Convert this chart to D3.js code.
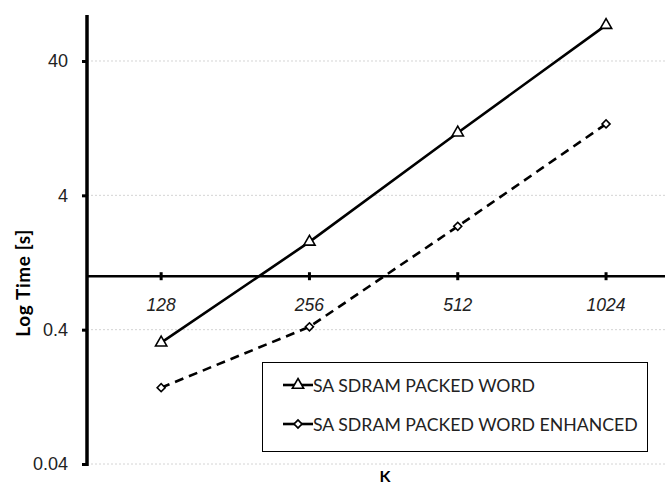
<!DOCTYPE html>
<html>
<head>
<meta charset="utf-8">
<script src="https://cdn.jsdelivr.net/npm/d3@7"></script>
<style>
  body { margin: 0; background: #fff; }
  svg { display: block; font-family: Lato, "Liberation Sans", sans-serif; }
</style>
</head>
<body>
<div id="chart"></div>
<script>
// values
var categories = ['128', '256', '512', '1024'];
var packedWord = [0.32, 1.8, 11.7, 74];
var packedWordEnhanced = [0.148, 0.42, 2.35, 13.6];
var yTicks = [0.04, 0.4, 4, 40];
var seriesNames = ['SA SDRAM PACKED WORD', 'SA SDRAM PACKED WORD ENHANCED'];
var crossAt = 1; // horizontal axis crosses the value axis here

var width = 665, height = 487;
var plotLeft = 87, plotTop = 15, plotBottom = 464;

var svg = d3.select('#chart').append('svg')
  .attr('width', width)
  .attr('height', height);

var x = d3.scaleBand()
  .domain(categories)
  .range([plotLeft, plotLeft + 4 * 148.3]);

var y = d3.scaleLog()
  .domain([0.04, 88])
  .range([plotBottom, plotTop]);

function cx(d) { return x(d) + x.bandwidth() / 2; }

// dotted gridlines
svg.append('g').selectAll('line')
  .data(yTicks)
  .enter()
  .append('line')
  .attr('x1', plotLeft)
  .attr('x2', width)
  .attr('y1', function(d) { return y(d); })
  .attr('y2', function(d) { return y(d); })
  .attr('stroke', '#d4d4d4')
  .attr('stroke-width', 1)
  .attr('stroke-dasharray', '2,2');

// value axis
var yAxis = svg.append('g')
  .attr('transform', 'translate(' + plotLeft + ',0)')
  .call(d3.axisLeft(y).tickValues(yTicks).tickSize(5).tickPadding(14)
    .tickFormat(function(d) { return String(d); }));
yAxis.select('.domain').attr('stroke', '#000').attr('stroke-width', 3.5)
  .attr('d', 'M0,' + plotTop + 'V' + (plotBottom + 2));
yAxis.selectAll('.tick line').attr('stroke', '#000').attr('stroke-width', 3);
yAxis.selectAll('.tick text').attr('font-size', 18).attr('fill', '#222');

// category axis, crossing at 1
var xAxis = svg.append('g')
  .attr('transform', 'translate(0,' + y(crossAt) + ')')
  .call(d3.axisBottom(x).tickSize(0).tickPadding(22));
xAxis.select('.domain').attr('stroke', '#000').attr('stroke-width', 2.5)
  .attr('d', 'M' + plotLeft + ',0H' + width);
xAxis.selectAll('.tick').append('line')
  .attr('y1', -4).attr('y2', 4)
  .attr('stroke', '#000').attr('stroke-width', 3);
xAxis.selectAll('.tick text').attr('font-size', 17.5).attr('font-style', 'italic').attr('fill', '#222');

// lines
var line = d3.line()
  .x(function(d, i) { return cx(categories[i]); })
  .y(function(d) { return y(d); });

svg.append('path')
  .datum(packedWord)
  .attr('d', line)
  .attr('fill', 'none')
  .attr('stroke', '#000')
  .attr('stroke-width', 2.6);

svg.append('path')
  .datum(packedWordEnhanced)
  .attr('d', line)
  .attr('fill', 'none')
  .attr('stroke', '#000')
  .attr('stroke-width', 2.6)
  .attr('stroke-dasharray', '9,6');

var triangle = d3.symbol().type(d3.symbolTriangle).size(55);
var diamond = d3.symbol().type(d3.symbolSquare).size(32);

svg.append('g').selectAll('path')
  .data(packedWord)
  .enter()
  .append('path')
  .attr('d', triangle)
  .attr('transform', function(d, i) { return 'translate(' + cx(categories[i]) + ',' + y(d) + ')'; })
  .attr('fill', '#fff')
  .attr('stroke', '#000')
  .attr('stroke-width', 1.6);

svg.append('g').selectAll('path')
  .data(packedWordEnhanced)
  .enter()
  .append('path')
  .attr('d', diamond)
  .attr('transform', function(d, i) { return 'translate(' + cx(categories[i]) + ',' + y(d) + ') rotate(45)'; })
  .attr('fill', '#fff')
  .attr('stroke', '#000')
  .attr('stroke-width', 1.6);

// axis titles
svg.append('text')
  .attr('transform', 'translate(30,283) rotate(-90)')
  .attr('text-anchor', 'middle')
  .attr('font-size', 19)
  .attr('letter-spacing', 0.6)
  .attr('font-weight', 'bold')
  .text('Log Time [s]');

svg.append('text')
  .attr('x', 385)
  .attr('y', 482)
  .attr('text-anchor', 'middle')
  .attr('font-size', 16)
  .attr('font-weight', 'bold')
  .text('K');

// legend
var legend = svg.append('g');
legend.append('rect')
  .attr('x', 262.5).attr('y', 362.5)
  .attr('width', 385).attr('height', 89)
  .attr('fill', '#fff')
  .attr('stroke', '#000')
  .attr('stroke-width', 1);

var legendY = [385, 424];
var legendSymbols = [triangle, diamond];
seriesNames.forEach(function(name, i) {
  var g = legend.append('g').attr('transform', 'translate(0,' + legendY[i] + ')');
  g.append('line')
    .attr('x1', 283).attr('x2', 313)
    .attr('stroke', '#000').attr('stroke-width', 2.6);
  g.append('path')
    .attr('d', legendSymbols[i])
    .attr('transform', 'translate(298,0)' + (i === 1 ? ' rotate(45)' : ''))
    .attr('fill', '#fff').attr('stroke', '#000').attr('stroke-width', 1.6);
  g.append('text')
    .attr('x', 313)
    .attr('y', 6.5)
    .attr('font-size', 17.7)
    .attr('fill', '#222')
    .text(name);
});
</script>
</body>
</html>
